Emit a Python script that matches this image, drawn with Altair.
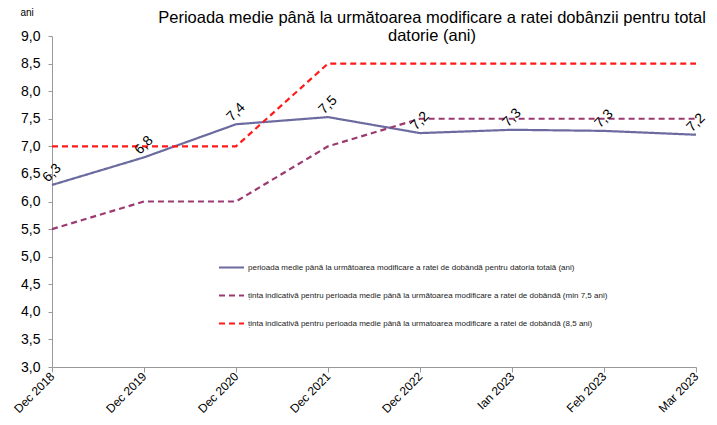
import altair as alt
import pandas as pd

categories = ["Dec 2018", "Dec 2019", "Dec 2020", "Dec 2021", "Dec 2022", "Ian 2023", "Feb 2023", "Mar 2023"]
actual = [6.3, 6.8, 7.4, 7.53, 7.24, 7.3, 7.28, 7.21]
target_min = [5.5, 6.0, 6.0, 7.0, 7.5, 7.5, 7.5, 7.5]
target_85 = [7.0, 7.0, 7.0, 8.5, 8.5, 8.5, 8.5, 8.5]
y_ticks = [3.0, 3.5, 4.0, 4.5, 5.0, 5.5, 6.0, 6.5, 7.0, 7.5, 8.0, 8.5, 9.0]

s1 = "perioada medie până la următoarea modificare a ratei de dobândă pentru datoria totală (ani)"
s2 = "ținta indicativă pentru perioada medie până la următoarea modificare a ratei de dobândă (min 7,5 ani)"
s3 = "ținta indicativă pentru perioada medie până la urmatoarea modificare a ratei de dobândă (8,5 ani)"
series_names = [s1, s2, s3]
colors = ["#6B6BA0", "#9B3A70", "#FF1A1A"]
dashes = [[1, 0], [6, 4], [6, 4]]

rows = []
for name, vals in zip(series_names, [actual, target_min, target_85]):
    for c, v in zip(categories, vals):
        rows.append({"cat": c, "value": v, "series": name})
df = pd.DataFrame(rows)
lab = pd.DataFrame({"cat": categories, "value": actual})

FONT = "Liberation Sans"

x = alt.X("cat:N", sort=categories, scale=alt.Scale(type="point", padding=0),
          axis=alt.Axis(title=None, labelAngle=-45, labelFontSize=12, labelFont=FONT,
                        labelColor="black", domainColor="#999999", tickColor="#999999",
                        labelAlign="right", labelBaseline="middle", labelPadding=2, tickSize=5))
y = alt.Y("value:Q", scale=alt.Scale(domain=[3, 9], nice=False, zero=False),
          axis=alt.Axis(title="ani", titleAngle=0, titleX=-32, titleY=-19, titleFontSize=10,
                        titleFontWeight="normal", titleFont=FONT, titleAlign="left",
                        values=y_ticks, tickCount=13, labelOverlap=False,
                        labelExpr="replace(format(datum.value,'.1f'),'.',',')",
                        labelFontSize=14, labelFont=FONT, labelColor="black", grid=False,
                        domainColor="#999999", tickColor="#999999", tickSize=4, labelPadding=8))

lines = alt.Chart(df).mark_line(strokeWidth=2.2).encode(
    x=x, y=y,
    color=alt.Color("series:N", sort=series_names,
                    scale=alt.Scale(domain=series_names, range=colors),
                    legend=alt.Legend(title=None, orient="none", legendX=166, legendY=218,
                                      labelFontSize=8, labelFont=FONT, labelLimit=600,
                                      symbolType="stroke", symbolSize=625, symbolStrokeWidth=2,
                                      rowPadding=10, labelOffset=3, labelColor="#222222")),
    strokeDash=alt.StrokeDash("series:N", sort=series_names,
                              scale=alt.Scale(domain=series_names, range=dashes), legend=None),
)

labels = alt.Chart(lab).transform_calculate(
    t="replace(format(datum.value,'.1f'),'.',',')"
).mark_text(angle=315, fontSize=14, font=FONT, color="black", dx=8.5, dy=-8.5).encode(
    x=x, y=y, text="t:N")

chart = alt.layer(lines, labels).properties(
    width=644, height=331,
    autosize=alt.AutoSizeParams(type="none"),
    padding={"left": 44, "top": 28, "right": 13, "bottom": 50},
    title=alt.TitleParams(["Perioada medie până la următoarea modificare a ratei dobânzii pentru total",
                           "datorie (ani)"], fontSize=16.5, font=FONT, fontWeight="normal",
                          anchor="middle", dx=58, offset=-37, lineHeight=18, color="black"),
).configure_view(stroke=None)

chart.save("out.html", embed_options={"renderer": "svg", "actions": False})
